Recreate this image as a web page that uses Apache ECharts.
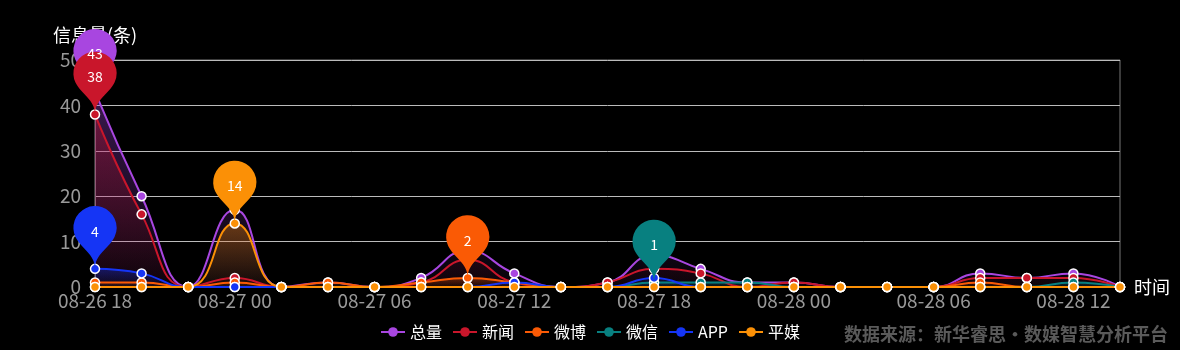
<!DOCTYPE html>
<html><head><meta charset="utf-8">
<script src="https://cdn.jsdelivr.net/npm/echarts@6/dist/echarts.min.js"></script>
<style>html,body{margin:0;padding:0;background:#000;}#c{width:1180px;height:350px;}</style>
</head><body><div id="c"></div>
<script>
const categories = ["08-26 18","08-26 20","08-26 22","08-27 00","08-27 02","08-27 04","08-27 06","08-27 08","08-27 10","08-27 12","08-27 14","08-27 16","08-27 18","08-27 20","08-27 22","08-28 00","08-28 02","08-28 04","08-28 06","08-28 08","08-28 10","08-28 12","08-28 14"];
const seriesNames = ["总量","新闻","微博","微信","APP","平媒"];
const total  = [43,20,0,17,0,1,0,2,8,3,0,1,7,4,1,1,0,0,0,3,2,3,0];
const news   = [38,16,0,2,0,0,0,1,6,1,0,1,4,3,0,1,0,0,0,2,2,2,0];
const weibo  = [1,1,0,1,0,1,0,1,2,1,0,0,0,0,0,0,0,0,0,1,0,0,0];
const weixin = [0,0,0,0,0,0,0,0,0,0,0,0,1,1,1,0,0,0,0,0,0,1,0];
const app    = [4,3,0,0,0,0,0,0,0,1,0,0,2,0,0,0,0,0,0,0,0,0,0];
const print  = [0,0,0,14,0,0,0,0,0,0,0,0,0,0,0,0,0,0,0,0,0,0,0];
const yTicks = [0,10,20,30,40,50];
const colors = ['#a846e0','#c9162b','#fa5a05','#088080','#1535f5','#fb9006'];
const values = [total,news,weibo,weixin,app,print];
const FONT = '"Noto Sans CJK SC", "Noto Sans", sans-serif';

function rgba(hex,a){const n=parseInt(hex.slice(1),16);return `rgba(${n>>16&255},${n>>8&255},${n&255},${a})`;}

const chart = echarts.init(document.getElementById('c'));
chart.setOption({
  backgroundColor:'#000',
  textStyle:{fontFamily:FONT},
  color:colors,
  grid:{left:95,right:60,top:60,bottom:63,show:true,borderColor:'#777',borderWidth:1},
  legend:{
    data:seriesNames, left:'center', bottom:5, itemWidth:24, itemHeight:12, itemGap:10,
    itemStyle:{borderWidth:0},
    textStyle:{color:'#fff',fontSize:16,fontFamily:FONT}
  },
  graphic:[{type:'text',right:12,bottom:7,style:{text:'数据来源：新华睿思·数媒智慧分析平台',fill:'#5a5a5a',font:'bold 18px '+FONT}}],
  xAxis:{
    type:'category', data:categories, boundaryGap:false,
    name:'时间', nameGap:14, nameTextStyle:{color:'#fff',fontSize:18,fontFamily:FONT},
    axisLine:{lineStyle:{color:'#777'}}, axisTick:{show:false},
    axisLabel:{interval:2,color:'#999',fontSize:19,margin:4,fontFamily:FONT}
  },
  yAxis:{
    type:'value', min:yTicks[0], max:yTicks[yTicks.length-1], interval:10,
    name:'信息量(条)', nameGap:16, nameTextStyle:{color:'#fff',fontSize:18,fontFamily:FONT,align:'center'},
    axisLine:{show:true,lineStyle:{color:'#777'}}, axisTick:{show:false},
    axisLabel:{color:'#999',fontSize:19,margin:14,fontFamily:FONT},
    splitLine:{lineStyle:{color:'#bbb'}}
  },
  series: seriesNames.map((n,i)=>({
    name:n, type:'line', smooth:true, data:values[i],
    symbol:'circle', symbolSize:9, showAllSymbol:true,
    lineStyle:{width:2,color:colors[i]},
    itemStyle:{color:colors[i],borderColor:'#fff',borderWidth:1.5},
    areaStyle:{color:new echarts.graphic.LinearGradient(0,0,0,1,[{offset:0,color:rgba(colors[i],0.5)},{offset:1,color:rgba(colors[i],0.05)}])},
    markPoint:{data:[{type:'max'}],symbolSize:72,label:{color:'#fff',fontSize:14,fontFamily:FONT},itemStyle:{color:colors[i],borderWidth:0}}
  }))
});
</script></body></html>
